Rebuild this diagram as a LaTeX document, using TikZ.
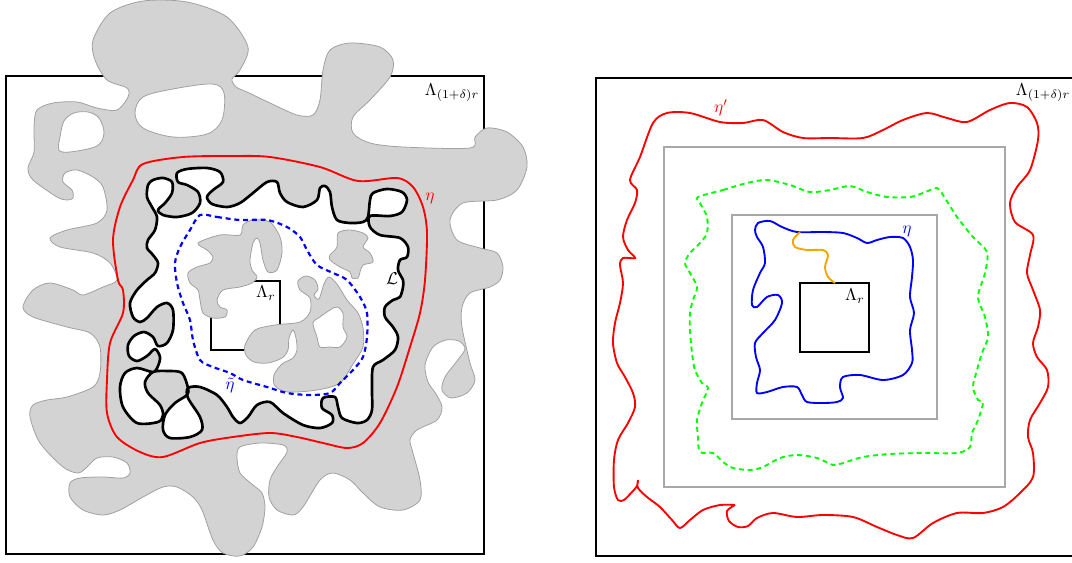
\documentclass[tikz,border=0pt]{standalone}
\usepackage{amsmath,amssymb}
\usetikzlibrary{positioning}
\definecolor{blobgray}{RGB}{211,211,211}
\definecolor{rimgray}{RGB}{160,160,160}
\definecolor{boxgray}{RGB}{168,168,168}
\definecolor{tailorange}{RGB}{245,165,0}
\begin{document}
\begin{tikzpicture}[x=0.0225cm,y=-0.0225cm,
  blob/.style={fill=blobgray,draw=rimgray,line width=0.5pt,even odd rule},
  frame/.style={draw=black,line width=1.3pt},
  graybox/.style={draw=boxgray,line width=1.4pt},
  loopL/.style={draw=black,fill=white,line width=1.7pt,line join=round},
  eta/.style={draw=red,line width=1.2pt},
  etadash/.style={draw=blue,line width=1.4pt,dash pattern=on 3.2pt off 2.4pt},
  greendash/.style={draw=green,line width=1.2pt,dash pattern=on 3.2pt off 2.4pt},
  lab/.style={inner sep=1pt,scale=1.1}]
\useasboundingbox (0,0) rectangle (1072,563);

\draw[frame] (6,76) rectangle (484,554);
\path[blob] plot[smooth cycle,tension=0.5] coordinates {
(93,40) (110,13) (143,1) (187,2) (227,17) (248,47) (240,70) (232,79) (236,87)
(247,92) (270,103) (297,115) (313,115) (320,100) (323,70) (330,50) (350,43)
(380,47) (393,60) (390,77) (370,100) (353,117) (353,133) (370,143) (403,147)
(470,148) (475,137) (487,128) (507,132) (523,147) (527,167) (517,190) (497,200)
(463,203) (450,220) (457,240) (480,248) (497,253) (503,267) (500,280) (490,287)
(470,293) (462,307) (462,327) (470,363) (475,380) (467,393) (451,398) (442,390)
(445,377) (457,361) (465,349) (459,341) (446,340) (433,347) (425,365) (428,382)
(436,394) (442,407) (437,420) (417,430) (410,440) (413,453) (420,480) (420,500)
(403,510) (380,507) (363,493) (350,480) (333,473) (320,480) (303,507) (293,515)
(277,510) (269,497) (270,480) (277,467) (287,452) (283,445) (260,443) (240,447)
(237,457) (240,473) (253,485) (262,493) (265,507) (262,527) (253,547) (240,556)
(223,553) (213,540) (202,510) (193,497) (177,487) (163,487) (143,497) (120,510)
(103,515) (83,510) (70,497) (70,483) (80,478) (103,477) (123,478) (130,473)
(127,463) (113,457) (97,458) (87,467) (78,473) (63,467) (40,443) (30,417)
(33,405) (47,400) (67,397) (93,387) (100,373) (100,347) (90,333) (67,327)
(33,317) (23,307) (33,290) (50,283) (73,290) (83,295) (103,287) (117,280)
(110,263) (93,253) (60,247) (50,238) (67,230) (97,223) (107,210) (103,187)
(93,177) (77,170) (65,173) (63,182) (72,190) (73,198) (67,200) (57,197)
(33,180) (28,168) (34,152) (34,127) (37,110) (53,103) (77,102) (97,108)
(117,110) (128,97) (127,88) (107,80) (95,60)}
plot[smooth cycle,tension=0.55] coordinates {
(135,113) (143,97) (173,89) (212,84) (224,93) (222,120) (207,134) (173,137) (143,128)}
plot[smooth cycle,tension=0.55] coordinates {
(60,137) (64,121) (74,113) (88,112) (99,118) (104,133) (97,146) (70,152) (59,150)};

\draw[eta] plot[smooth cycle,tension=0.5] coordinates {
(143,164) (183,157) (233,156) (270,157) (320,167) (358,181) (397,178) (413,187)
(423,207) (427,233) (425,280) (420,313) (410,347) (397,387) (380,423) (363,443)
(347,448) (323,443) (297,437) (270,433) (233,437) (200,443) (163,457) (140,452)
(117,437) (107,413) (107,380) (110,343) (123,313) (123,290) (118,280) (113,240)
(120,207) (133,180)};

\path[loopL] plot[smooth cycle,tension=0.5] coordinates {
(148,185) (153,180) (163,178) (172,182) (172,193) (165,203) (158,210) (163,215)
(177,217) (192,213) (200,203) (198,192) (187,185) (178,182) (177,173) (187,169)
(207,168) (220,172) (223,182) (213,190) (207,197) (212,204) (227,207) (240,203)
(253,193) (267,182) (277,182) (280,193) (287,202) (303,207) (317,200) (320,188)
(325,186) (330,192) (332,207) (337,220) (350,223) (363,222) (368,217) (370,200)
(373,193) (387,189) (402,192) (407,200) (402,212) (390,216) (370,216) (370,227)
(380,235) (400,238) (408,247) (407,257) (400,260) (398,270) (403,280) (403,287)
(400,297) (393,300) (385,307) (385,317) (393,327) (398,337) (395,350) (383,360)
(373,367) (372,390) (372,410) (367,420) (357,423) (342,418) (338,407) (335,397)
(323,398) (322,408) (332,415) (332,423) (320,428) (303,425) (283,413) (270,402)
(257,405) (248,417) (240,423) (233,417) (227,407) (217,395) (200,387) (188,388)
(188,398) (200,417) (202,430) (190,437) (170,438) (163,430) (165,415) (175,403)
(187,395) (188,388) (182,373) (168,371) (153,372) (145,382) (148,393) (160,405)
(163,415) (158,422) (137,423) (123,407) (120,387) (125,373) (137,368) (153,372)
(158,366) (160,357) (155,349) (147,356) (137,361) (129,356) (128,345) (134,336)
(144,332) (153,337) (158,346) (167,343) (173,330) (173,310) (167,303) (157,307)
(147,318) (140,322) (133,317) (130,303) (137,290) (147,280) (155,273) (158,263)
(153,255) (147,248) (148,240) (155,230) (157,217) (152,207) (147,197)};

\draw[frame] (211,281) rectangle (280,350);
\path[blob] plot[smooth cycle,tension=0.5] coordinates {
(198,243) (220,235) (240,235) (243,225) (253,220) (270,222) (280,237) (282,253)
(277,270) (268,272) (263,260) (260,243) (257,238) (253,243) (250,260) (252,270)
(257,277) (252,283) (240,287) (223,290) (217,300) (220,307) (227,310) (225,317)
(213,318) (203,313) (200,300) (198,290) (190,283) (188,273) (197,267) (210,263)
(213,257) (207,250)};
\path[blob] plot[smooth cycle,tension=0.5] coordinates {
(330,255) (337,247) (338,233) (350,230) (363,233) (368,238) (363,247) (370,253)
(373,262) (363,265) (360,272) (358,278) (352,278) (350,272) (340,267) (330,260)};
\path[blob] plot[smooth cycle,tension=0.5] coordinates {
(245,345) (255,330) (275,325) (300,322) (310,312) (310,298) (300,290) (298,281)
(306,276) (315,280) (318,289) (314,295) (319,299) (324,284) (329,277) (337,284)
(347,300) (358,313) (363,328) (363,347) (353,364) (340,383) (317,390) (288,392)
(275,386) (274,375) (282,364) (293,358) (297,350) (296,338) (293,330) (289,338)
(288,350) (282,358) (268,363) (254,362) (246,355)}
plot[smooth cycle,tension=0.55] coordinates {
(317,337) (313,323) (320,317) (330,310) (337,307) (343,313) (343,327) (347,337)
(340,347) (330,347) (320,347)};

\draw[etadash] plot[smooth cycle,tension=0.5] coordinates {
(200,215) (217,217) (240,220) (267,220) (287,227) (300,237) (307,250) (317,265)
(333,273) (347,280) (360,297) (367,313) (367,337) (363,357) (353,370) (340,383)
(330,393) (310,395) (287,393) (267,387) (243,380) (230,373) (213,367) (200,360)
(193,340) (190,320) (183,303) (177,283) (175,263) (180,247) (190,230)};

\node[lab] (bigboxL) at (452,93) {$\Lambda_{(1+\delta)r}$};
\node[lab] (smallboxL) at (266,293) {$\Lambda_r$};
\node[lab,text=red] (etaL) at (430,198) {$\eta$};
\node[lab] (loopname) at (392,279) {$\mathcal{L}$};
\node[lab,text=blue] (etatilde) at (230,385) {$\tilde\eta$};

\draw[frame] (596,78) rectangle (1090,556);
\draw[graybox] (664,147) rectangle (1005,487);
\draw[graybox] (732,215) rectangle (937,419);
\draw[frame] (800,283) rectangle (869,352);

\draw[eta] plot[smooth,tension=0.5] coordinates {
(735,505) (727,511) (729,521) (738,527) (748,526) (757,518) (773,513) (797,517)
(823,515) (853,517) (877,527) (897,535) (913,538) (933,523) (957,513) (983,513)
(1003,507) (1020,493) (1033,477) (1033,453) (1028,437) (1030,420) (1040,403)
(1048,387) (1047,370) (1037,357) (1033,343) (1038,327) (1040,310) (1033,290)
(1027,273) (1030,255) (1033,235) (1015,222) (1010,203) (1017,187) (1030,170)
(1038,140) (1037,123) (1027,107) (1010,103) (990,110) (967,122) (947,118)
(927,113) (903,120) (883,130) (863,138) (830,138) (803,138) (783,132) (763,120)
(743,123) (720,122) (690,113) (667,113) (653,123) (640,157) (630,180) (637,190)
(635,203) (627,220) (623,237) (628,250) (635,258) (623,258) (620,265) (623,283)
(620,303) (615,323) (613,343) (617,363) (625,377) (633,393) (635,407) (628,423)
(618,440) (614,460) (614,487) (618,500) (624,500) (632,492) (637,486) (638,480)}
plot[smooth,tension=0.5] coordinates {
(638,480) (638,488) (647,497) (660,507) (672,520) (680,528) (690,520) (703,510)
(720,505) (735,505)};

\draw[greendash] plot[smooth cycle,tension=0.5] coordinates {
(698,197) (723,190) (747,183) (767,180) (790,185) (810,192) (830,190) (850,186)
(867,192) (887,197) (910,197) (923,193) (937,188) (943,195) (957,217) (973,237)
(987,252) (985,273) (978,297) (985,317) (988,337) (982,353) (977,370) (973,387)
(978,400) (983,403) (978,420) (972,433) (970,447) (957,453) (923,453) (890,454)
(863,457) (843,463) (833,465) (817,458) (797,455) (780,458) (763,467) (750,470)
(733,468) (723,462) (713,453) (700,452) (698,437) (697,420) (702,403) (708,388)
(702,383) (695,370) (692,353) (690,330) (690,313) (693,300) (697,287) (690,273)
(685,263) (690,253) (700,243) (707,233) (707,217) (700,203)};

\draw[blue,line width=1.2pt] plot[smooth cycle,tension=0.5] coordinates {
(755,230) (758,223) (770,221) (782,227) (797,232) (823,232) (843,233) (857,238)
(867,243) (877,240) (890,237) (903,238) (910,247) (913,260) (912,277) (910,297)
(914,313) (910,330) (912,350) (912,363) (903,375) (883,380) (860,375) (843,377)
(840,387) (843,398) (837,402) (823,403) (807,402) (802,395) (797,387) (783,387)
(767,392) (757,393) (757,383) (760,370) (756,357) (755,343) (763,333) (775,320)
(782,303) (778,295) (767,297) (757,307) (752,305) (753,290) (760,273) (765,263)
(763,247) (757,237)};

\draw[tailorange,line width=1.2pt] plot[smooth,tension=0.5] coordinates {
(800,232) (793,240) (795,247) (807,250) (823,250) (828,255) (825,267) (828,277) (835,283)};

\node[lab] (bigboxR) at (1043,93) {$\Lambda_{(1+\delta)r}$};
\node[lab] (smallboxR) at (855,296) {$\Lambda_r$};
\node[lab,text=red] (etaprime) at (721,108) {$\eta'$};
\node[lab,text=blue] (etaR) at (907,231) {$\eta$};
\end{tikzpicture}
\end{document}
